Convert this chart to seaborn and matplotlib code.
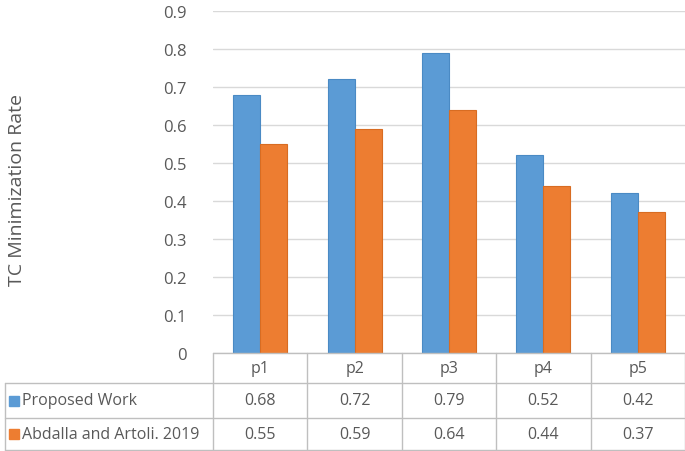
import pandas as pd
import seaborn as sns
import matplotlib.pyplot as plt

# ---------------- Data ----------------
categories = ["p1", "p2", "p3", "p4", "p5"]
proposed = [0.68, 0.72, 0.79, 0.52, 0.42]
abdalla = [0.55, 0.59, 0.64, 0.44, 0.37]
series_names = ["Proposed Work", "Abdalla and Artoli. 2019"]
colors = ["#5B9BD5", "#ED7D31"]
edge_colors = ["#4A8AC4", "#D86C22"]

df = pd.DataFrame({
    "cat": categories * 2,
    "value": proposed + abdalla,
    "series": [series_names[0]] * 5 + [series_names[1]] * 5,
})

sns.set_style("white")
plt.rcParams["font.family"] = ["Open Sans", "DejaVu Sans"]
text_col = "#595959"
grid_col = "#D9D9D9"
line_col = "#BFBFBF"

W, H = 685, 452
fig = plt.figure(figsize=(W / 100, H / 100), dpi=100)
# plot area in pixels: x 213..685, y 12..354
ax = fig.add_axes([213 / W, (H - 354) / H, 472 / W, 342 / H])

sns.barplot(data=df, x="cat", y="value", hue="series", order=categories,
            hue_order=series_names, palette=colors, width=0.57,
            saturation=1, ax=ax, legend=False)
for i, cont in enumerate(ax.containers):
    for bar in cont:
        bar.set_edgecolor(edge_colors[i])
        bar.set_linewidth(0.8)

ax.set_xlim(-0.5, 4.5)
ax.set_ylim(0, 0.9)
ax.set_yticks([i / 10 for i in range(10)])
ax.set_yticklabels(["0"] + [f"{i / 10:.1f}" for i in range(1, 10)])
ax.tick_params(axis="y", length=0, pad=19, labelsize=12, labelcolor=text_col)
ax.set_xticks([])
ax.set_xlabel("")
ax.set_ylabel("")
ax.yaxis.grid(True, color=grid_col, linewidth=1)
ax.set_axisbelow(True)
for s in ax.spines.values():
    s.set_visible(False)

fig.text(17 / W, (H - 190) / H, "TC Minimization Rate", rotation=90,
         ha="center", va="center", fontsize=14, color=text_col)

# ---------------- Data table below the chart ----------------
def fx(px):
    return px / W

def fy(py):
    return (H - py) / H

col_w = 472 / 5
row_y = [354, 384, 419, 451]
left = 5
right = 684

def hline(x0, x1, y):
    fig.add_artist(plt.Line2D([fx(x0), fx(x1)], [fy(y), fy(y)], color=line_col, lw=1))

def vline(x, y0, y1):
    fig.add_artist(plt.Line2D([fx(x), fx(x)], [fy(y0), fy(y1)], color=line_col, lw=1))

hline(213, right, row_y[0])
for y in row_y[1:]:
    hline(left, right, y)
vline(left, row_y[1], row_y[3])
for k in range(6):
    vline(213 + k * col_w, row_y[0], row_y[3])

for k, c in enumerate(categories):
    cx = 213 + (k + 0.5) * col_w
    fig.text(fx(cx), fy((row_y[0] + row_y[1]) / 2), c, ha="center", va="center",
             fontsize=11.5, color=text_col)

for r, (name, vals) in enumerate(zip(series_names, [proposed, abdalla])):
    cy = (row_y[r + 1] + row_y[r + 2]) / 2
    fig.patches.append(plt.Rectangle((fx(9), fy(cy + 5)), 10 / W, 10 / H,
                                     transform=fig.transFigure, color=colors[r],
                                     figure=fig))
    fig.text(fx(22), fy(cy), name, ha="left", va="center", fontsize=11.5, color=text_col)
    for k, v in enumerate(vals):
        cx = 213 + (k + 0.5) * col_w
        fig.text(fx(cx), fy(cy), f"{v:.2f}", ha="center", va="center",
                 fontsize=11.5, color=text_col)

fig.savefig("out.png", dpi=100)
